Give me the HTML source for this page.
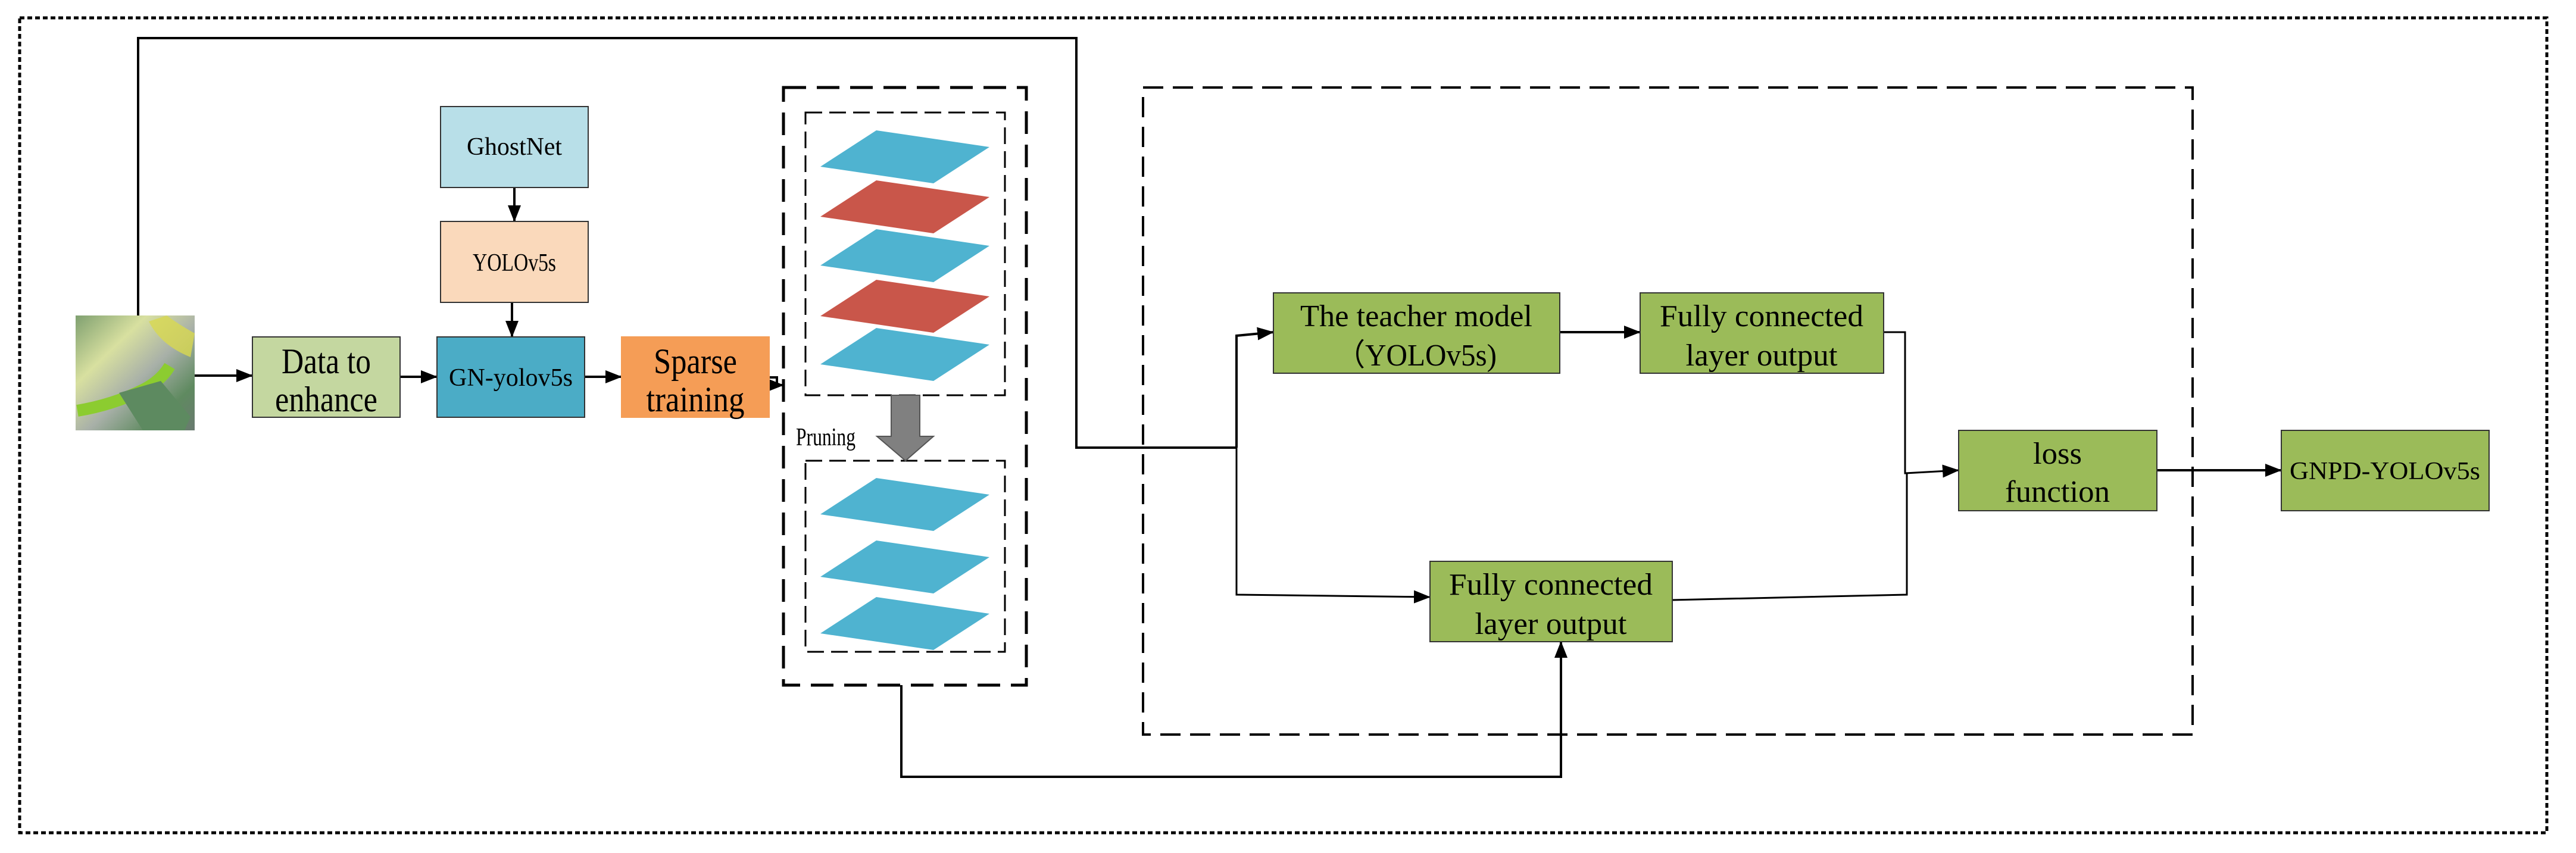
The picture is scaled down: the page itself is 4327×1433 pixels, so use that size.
<!DOCTYPE html>
<html><head><meta charset="utf-8"><style>html,body{margin:0;padding:0;background:#fff}svg{display:block}</style></head><body>
<svg width="4327" height="1433" viewBox="0 0 4327 1433" xmlns="http://www.w3.org/2000/svg">
<defs>
<marker id="b" markerWidth="28" markerHeight="22" refX="27" refY="11" orient="auto" markerUnits="userSpaceOnUse"><path d="M0,0 L28,11 L0,22z" fill="#000"/></marker>
<linearGradient id="g1" x1="0" y1="0" x2="1" y2="1"><stop offset="0" stop-color="#7fa070"/><stop offset="0.3" stop-color="#d8e0a0"/><stop offset="0.55" stop-color="#a8b0a8"/><stop offset="0.8" stop-color="#5f8a60"/><stop offset="1" stop-color="#6a7a70"/></linearGradient>
</defs>
<rect x="33" y="30" width="4245" height="1369" fill="none" stroke="#000" stroke-width="5" stroke-dasharray="8,5"/>
<!-- image -->
<rect x="127" y="530" width="200" height="193" fill="url(#g1)"/>
<path d="M250,540 Q270,580 320,600 L327,560 Q300,545 280,530z" fill="#d8d850" opacity="0.8"/>
<path d="M130,690 Q190,680 240,655 Q270,640 285,615" stroke="#8ccc30" stroke-width="20" fill="none"/>
<path d="M200,660 L270,640 L320,700 L310,723 L240,723z" fill="#5d8a60"/>
<g fill="none" stroke="#000" stroke-width="4">
<polyline points="232,530 232,64 1808,64 1808,752 2077,752"/>
<line x1="327" y1="631" x2="424" y2="631" marker-end="url(#b)"/>
<line x1="672" y1="633" x2="734" y2="633" marker-end="url(#b)"/>
<line x1="982" y1="633" x2="1044" y2="633" marker-end="url(#b)"/>
<polyline points="1292,634 1305,634 1305,647 1316,647" marker-end="url(#b)"/>
<line x1="864" y1="315" x2="864" y2="372" marker-end="url(#b)"/>
<line x1="860" y1="508" x2="860" y2="566" marker-end="url(#b)"/>
<polyline points="1514,1151 1514,1305 2622,1305 2622,1078" marker-end="url(#b)"/>
<polyline points="2077,752 2077,564 2139,558" marker-end="url(#b)"/>
<polyline points="2077,752 2077,999 2402,1003" stroke-width="3" marker-end="url(#b)"/>
<line x1="2620" y1="558" x2="2755" y2="558" marker-end="url(#b)"/>
<polyline points="3164,558 3200,558 3200,795 3290,790" stroke-width="3" marker-end="url(#b)"/>
<polyline points="2809,1008 3203,999 3203,795" stroke-width="3"/>
<line x1="3623" y1="790" x2="3832" y2="790" marker-end="url(#b)"/>
</g>
<!-- boxes -->
<g stroke="#333" stroke-width="2">
<rect x="740" y="179" width="248" height="136" fill="#b8dfe8"/>
<rect x="740" y="372" width="248" height="136" fill="#fad9bb"/>
<rect x="424" y="566" width="248" height="135" fill="#c4d7a0"/>
<rect x="734" y="566" width="248" height="135" fill="#4bacc6"/>
<rect x="1044" y="566" width="248" height="135" fill="#f59d56" stroke="#f59d56"/>
<rect x="2139" y="492" width="481" height="135" fill="#9bbb59"/>
<rect x="2755" y="492" width="409" height="135" fill="#9bbb59"/>
<rect x="2402" y="943" width="407" height="135" fill="#9bbb59"/>
<rect x="3290" y="723" width="333" height="135" fill="#9bbb59"/>
<rect x="3832" y="723" width="349" height="135" fill="#9bbb59"/>
</g>
<!-- dashed boxes -->
<g fill="none" stroke="#000">
<rect x="1316" y="147" width="408" height="1004" stroke-width="5" stroke-dasharray="38,18"/>
<rect x="1353" y="189" width="335" height="475" stroke-width="3" stroke-dasharray="28,12"/>
<rect x="1353" y="774" width="335" height="321" stroke-width="3" stroke-dasharray="28,12"/>
<rect x="1920" y="147" width="1763" height="1087" stroke-width="4" stroke-dasharray="34,16"/>
</g>
<!-- layers -->
<g>
<path d="M1378,280 L1472,219 L1662,247 L1568,308z" fill="#4fb3d0"/>
<path d="M1378,364 L1472,303 L1662,331 L1568,392z" fill="#c9564a"/>
<path d="M1378,446 L1472,385 L1662,413 L1568,474z" fill="#4fb3d0"/>
<path d="M1378,531 L1472,470 L1662,498 L1568,559z" fill="#c9564a"/>
<path d="M1378,612 L1472,551 L1662,579 L1568,640z" fill="#4fb3d0"/>
<path d="M1378,864 L1472,803 L1662,831 L1568,892z" fill="#4fb3d0"/>
<path d="M1378,969 L1472,908 L1662,936 L1568,997z" fill="#4fb3d0"/>
<path d="M1378,1064 L1472,1003 L1662,1031 L1568,1092z" fill="#4fb3d0"/>
</g>
<path d="M1497,664 L1545,664 L1545,733 L1568,733 L1521,774 L1473,733 L1497,733z" fill="#808080" stroke="#555" stroke-width="2"/>
<g font-family="Liberation Serif, serif" fill="#000" text-anchor="middle">
<text x="1337" y="748" font-size="42" text-anchor="start" textLength="100" lengthAdjust="spacingAndGlyphs">Pruning</text>
<text x="548" y="627" font-size="60" textLength="150" lengthAdjust="spacingAndGlyphs">Data to</text>
<text x="548" y="691" font-size="60" textLength="172" lengthAdjust="spacingAndGlyphs">enhance</text>
<text x="1168" y="627" font-size="60" textLength="140" lengthAdjust="spacingAndGlyphs">Sparse</text>
<text x="1168" y="691" font-size="60" textLength="165" lengthAdjust="spacingAndGlyphs">training</text>
<text x="2379" y="548" font-size="52" textLength="390" lengthAdjust="spacingAndGlyphs">The teacher model</text>
<text x="2379" y="614" font-size="52" textLength="270" lengthAdjust="spacingAndGlyphs">（YOLOv5s)</text>
<text x="2959" y="548" font-size="52" textLength="342" lengthAdjust="spacingAndGlyphs">Fully connected</text>
<text x="2959" y="614" font-size="52" textLength="255" lengthAdjust="spacingAndGlyphs">layer output</text>
<text x="2605" y="999" font-size="52" textLength="342" lengthAdjust="spacingAndGlyphs">Fully connected</text>
<text x="2605" y="1065" font-size="52" textLength="255" lengthAdjust="spacingAndGlyphs">layer output</text>
<text x="3456" y="779" font-size="52" textLength="82" lengthAdjust="spacingAndGlyphs">loss</text>
<text x="3456" y="843" font-size="52" textLength="176" lengthAdjust="spacingAndGlyphs">function</text>
</g>
<g font-family="Liberation Serif, serif" fill="#000" text-anchor="middle" font-size="42">
<text x="864" y="260" textLength="160" lengthAdjust="spacingAndGlyphs">GhostNet</text>
<text x="864" y="455" textLength="140" lengthAdjust="spacingAndGlyphs">YOLOv5s</text>
<text x="858" y="648" textLength="208" lengthAdjust="spacingAndGlyphs">GN-yolov5s</text>
<text x="4006" y="805" textLength="320" lengthAdjust="spacingAndGlyphs">GNPD-YOLOv5s</text>
</g>
</svg>
</body></html>
